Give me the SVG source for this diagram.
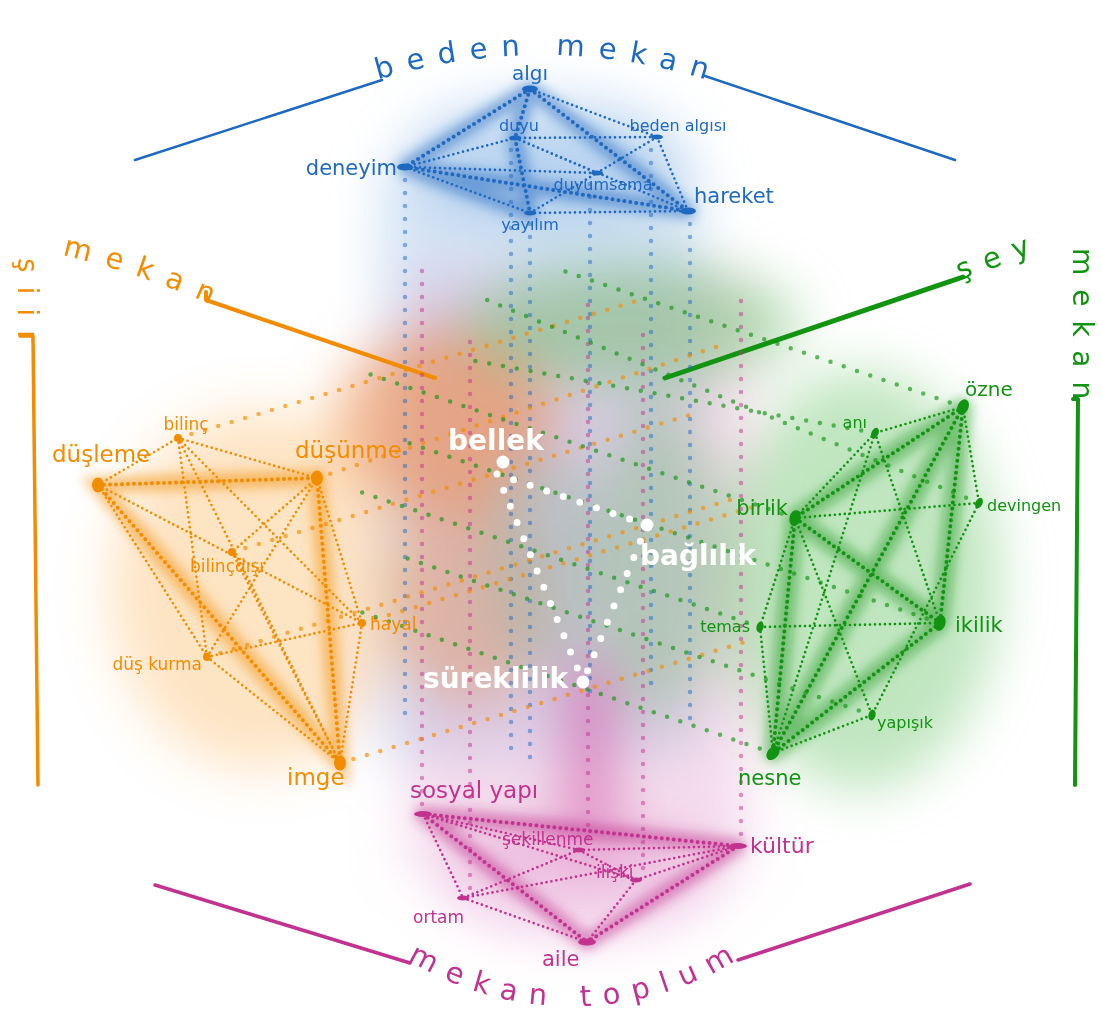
<svg xmlns="http://www.w3.org/2000/svg" width="1101" height="1016" viewBox="0 0 1101 1016">
<defs>
<filter id="cloud" x="-60%" y="-60%" width="220%" height="220%"><feGaussianBlur stdDeviation="26"/></filter>
<filter id="glow" x="-40%" y="-40%" width="180%" height="180%"><feGaussianBlur stdDeviation="6"/></filter>
<path id="arcB" d="M 377 80 A 557 557 0 0 1 707 80"/>
<path id="arcP" d="M 400 955 A 314 314 0 0 0 750 951"/>
<path id="arcO" d="M 62 255 Q 137 272 212 305"/>
<path id="arcG" d="M 960 280 L 1048 248"/>
</defs>
<style>
text{font-family:"DejaVu Sans","Liberation Sans",sans-serif}
.tb{fill:#1f69c1}.to{fill:#f28c00}.tg{fill:#129412}.tp{fill:#c2328f}
.tw{fill:#fff;font-weight:bold;font-size:28px}
.ttl{font-size:29px}
.e{fill:none;stroke-linecap:round;stroke-dasharray:0 5;stroke-width:2.7}
.E{fill:none;stroke-linecap:round;stroke-dasharray:0 6;stroke-width:4}
.p{fill:none;stroke-linecap:round;stroke-dasharray:0 13;stroke-width:4.5;opacity:.5}
.q{fill:none;stroke-linecap:round;stroke-dasharray:0 14;stroke-width:4.5;opacity:.65}
.w{fill:none;stroke:#fff;stroke-linecap:round;stroke-dasharray:0 17.5;stroke-width:7}
.sb{stroke:#1f69c1}.so{stroke:#f28c00}.sg{stroke:#129412}.sp{stroke:#c2328f}
.fb{fill:#1f69c1}.fo{fill:#f28c00}.fg{fill:#129412}.fp{fill:#c2328f}
.gl{fill:none;stroke-width:16;opacity:.5;stroke-linecap:round}
.fr{fill:none;stroke-linecap:round;stroke-linejoin:round}
</style>
<rect width="1101" height="1016" fill="#fff"/>

<g id="clouds" filter="url(#cloud)">
<rect x="380" y="170" width="320" height="590" fill="#a9c9ec" opacity=".5"/>
<rect x="405" y="270" width="345" height="600" fill="#e7a9d3" opacity=".4"/>
<rect x="565" y="660" width="50" height="200" fill="#d24fa8" opacity=".6"/>
<ellipse cx="260" cy="590" rx="150" ry="180" fill="#f7a63a" opacity=".3"/>
<ellipse cx="445" cy="420" rx="110" ry="95" fill="#ee8438" opacity=".55"/>
<ellipse cx="470" cy="600" rx="80" ry="110" fill="#e0945a" opacity=".45"/>
<ellipse cx="630" cy="325" rx="170" ry="65" fill="#6fbf6f" opacity=".5"/>
<ellipse cx="860" cy="580" rx="140" ry="210" fill="#74c874" opacity=".45"/>
<ellipse cx="660" cy="560" rx="70" ry="160" fill="#86bc86" opacity=".45"/>
<ellipse cx="545" cy="560" rx="60" ry="120" fill="#96b4a4" opacity=".45"/>
<ellipse cx="545" cy="160" rx="140" ry="60" fill="#8db8e8" opacity=".55"/>
<ellipse cx="580" cy="875" rx="140" ry="60" fill="#e49ad0" opacity=".5"/>
</g>

<g id="title-beden-mekan">
<path class="fr sb" stroke-width="2.5" d="M 135 160 L 382 80 M 705 76 L 955 160"/>
<text class="ttl tb" letter-spacing="13.4"><textPath href="#arcB" startOffset="1">beden</textPath></text>
<text class="ttl tb" letter-spacing="13.4"><textPath href="#arcB" startOffset="181.5">mekan</textPath></text>
</g>
<g id="title-siir-mekan">
<path class="fr so" stroke-width="4" d="M 206 292 L 206 300 L 435 378"/>
<path class="fr so" stroke-width="3.5" d="M 20 336 L 33 336 L 38 785"/>
<text class="ttl to" letter-spacing="14.5"><textPath href="#arcO">mekan</textPath></text>
<text class="to" font-size="28" letter-spacing="14" transform="translate(18,258) rotate(90)">şiir</text>
</g>
<g id="title-sey-mekan">
<path class="fr sg" stroke-width="5" d="M 665 378 L 963 277"/>
<path class="fr sg" stroke-width="4" d="M 1073 399 L 1078 399 L 1075 785"/>
<text class="ttl tg" letter-spacing="13"><textPath href="#arcG">şey</textPath></text>
<text class="tg" font-size="28" letter-spacing="14" transform="translate(1073,248) rotate(90)">mekan</text>
</g>
<g id="title-mekan-toplum">
<path class="fr sp" stroke-width="3.5" d="M 155 885 L 410 963 M 738 960 L 970 884"/>
<text class="ttl tp" letter-spacing="12.2"><textPath href="#arcP" startOffset="9">mekan</textPath></text>
<text class="ttl tp" letter-spacing="12.2"><textPath href="#arcP" startOffset="190.5">toplum</textPath></text>
</g>

<g id="connectors">
<g filter="url(#glow)">
<path class="gl sb" d="M530 89L405 167M530 89L688 211M530 89L515 138L530 213M405 167L688 211M405 167L530 213"/>
<path class="gl so" d="M98 485L317 478L340 763Z"/>
<path class="gl sg" d="M963 407L795 518M963 407L940 623M963 407L773 753M795 518L940 623M795 518L773 753M940 623L773 753"/>
<path class="gl sp" d="M423 814L587 942L738 846M423 814L738 846"/>
</g>
<path class="p sb" d="M405 180V715M511 150V760M530 224V760M590 184V700M651 150V690M690 224V720"/>
<path class="p sp" d="M422 804V268M470 888V340M588 838V295M643 868V325M741 834V290"/>
<path class="q so" d="M178 438L640 300M317 478L722 345M232 552L700 412M362 623L760 505M207 657L730 500M340 763L745 642"/>
<path class="q sg" d="M963 407L555 268M875 433L470 360M979 503L475 295M795 518L360 371M760 627L355 490M940 623L400 440M872 715L400 556M773 753L355 610"/>
<path class="E sb" d="M530 89L405 167M530 89L688 211M530 89L515 138M515 138L530 213M405 167L688 211"/>
<path class="e sb" d="M530 89L657 137M405 167L515 138M405 167L530 213M405 167L597 173M515 138L657 137M515 138L597 173M515 138L688 211M597 173L657 137M530 213L597 173M530 213L688 211M657 137L688 211"/>
<path class="E so" d="M98 485L317 478M98 485L340 763M317 478L340 763"/>
<path class="e so" d="M98 485L178 438M178 438L317 478M178 438L207 657M178 438L362 623M178 438L340 763M98 485L362 623M98 485L207 657M317 478L232 552M317 478L207 657M232 552L340 763M207 657L362 623M207 657L340 763M362 623L340 763M317 478L362 623"/>
<path class="E sg" d="M963 407L795 518M963 407L940 623M963 407L773 753M795 518L940 623M795 518L773 753M940 623L773 753"/>
<path class="e sg" d="M963 407L875 433M963 407L979 503M875 433L795 518M875 433L940 623M795 518L979 503M795 518L872 715M795 518L760 627M760 627L940 623M760 627L773 753M773 753L872 715M979 503L872 715M875 433L773 753"/>
<path class="E sp" d="M423 814L587 942M738 846L587 942M423 814L738 846"/>
<path class="e sp" d="M423 814L579 850M423 814L463 898M423 814L636 880M579 850L738 846M579 850L463 898M579 850L636 880M463 898L587 942M463 898L738 846M636 880L587 942M636 880L738 846"/>
<path class="w" d="M497 474L647 525M497 474L583 682M647 525L583 682"/>
</g>

<g id="n-algi"><ellipse cx="530" cy="89" rx="8" ry="3.5" class="fb"/><text x="530" y="80" font-size="20" text-anchor="middle" class="tb">algı</text></g>
<g id="n-duyu"><ellipse cx="515" cy="138" rx="6" ry="2.5" class="fb"/><text x="519" y="131" font-size="16" text-anchor="middle" class="tb">duyu</text></g>
<g id="n-beden-algisi"><ellipse cx="657" cy="137" rx="6" ry="2.5" class="fb"/><text x="678" y="131" font-size="16" text-anchor="middle" class="tb">beden algısı</text></g>
<g id="n-deneyim"><ellipse cx="405" cy="167" rx="8" ry="3.5" class="fb"/><text x="397" y="175" font-size="21" text-anchor="end" class="tb">deneyim</text></g>
<g id="n-duyumsama"><ellipse cx="597" cy="173" rx="6" ry="2.5" class="fb"/><text x="603" y="190" font-size="16" text-anchor="middle" class="tb">duyumsama</text></g>
<g id="n-hareket"><ellipse cx="688" cy="211" rx="8" ry="3.5" class="fb"/><text x="694" y="203" font-size="21" class="tb">hareket</text></g>
<g id="n-yayilim"><ellipse cx="530" cy="213" rx="6" ry="2.5" class="fb"/><text x="530" y="230" font-size="16" text-anchor="middle" class="tb">yayılım</text></g>

<g id="n-dusleme"><ellipse cx="98" cy="485" rx="6" ry="7.5" class="fo"/><text x="52" y="462" font-size="23" class="to">düşleme</text></g>
<g id="n-bilinc"><circle cx="178" cy="438" r="4" class="fo"/><text x="186" y="430" font-size="17" text-anchor="middle" class="to">bilinç</text></g>
<g id="n-dusunme"><ellipse cx="317" cy="478" rx="6" ry="7.5" class="fo"/><text x="295" y="458" font-size="23" class="to">düşünme</text></g>
<g id="n-bilincdisi"><circle cx="232" cy="552" r="4" class="fo"/><text x="227" y="572" font-size="17" text-anchor="middle" class="to">bilinçdışı</text></g>
<g id="n-hayal"><circle cx="362" cy="623" r="4" class="fo"/><text x="370" y="630" font-size="17" class="to">hayal</text></g>
<g id="n-dus-kurma"><circle cx="207" cy="657" r="4" class="fo"/><text x="202" y="670" font-size="17" text-anchor="end" class="to">düş kurma</text></g>
<g id="n-imge"><ellipse cx="340" cy="763" rx="6" ry="7.5" class="fo"/><text x="287" y="785" font-size="23" class="to">imge</text></g>

<g id="n-ozne"><ellipse cx="963" cy="407" rx="5.5" ry="8" transform="rotate(25 963 407)" class="fg"/><text x="965" y="396" font-size="20" class="tg">özne</text></g>
<g id="n-ani"><ellipse cx="875" cy="433" rx="3.5" ry="5.5" transform="rotate(25 875 433)" class="fg"/><text x="867" y="428" font-size="16" text-anchor="end" class="tg">anı</text></g>
<g id="n-devingen"><ellipse cx="979" cy="503" rx="3.5" ry="5.5" transform="rotate(25 979 503)" class="fg"/><text x="987" y="511" font-size="16" class="tg">devingen</text></g>
<g id="n-birlik"><ellipse cx="795" cy="518" rx="5.5" ry="8" transform="rotate(15 795 518)" class="fg"/><text x="788" y="515" font-size="21" text-anchor="end" class="tg">birlik</text></g>
<g id="n-temas"><ellipse cx="760" cy="627" rx="3.5" ry="5.5" transform="rotate(15 760 627)" class="fg"/><text x="750" y="632" font-size="16" text-anchor="end" class="tg">temas</text></g>
<g id="n-ikilik"><ellipse cx="940" cy="623" rx="5.5" ry="8" transform="rotate(15 940 623)" class="fg"/><text x="955" y="632" font-size="21" class="tg">ikilik</text></g>
<g id="n-yapisik"><ellipse cx="872" cy="715" rx="3.5" ry="5.5" transform="rotate(15 872 715)" class="fg"/><text x="877" y="728" font-size="16" class="tg">yapışık</text></g>
<g id="n-nesne"><ellipse cx="773" cy="753" rx="5.5" ry="8" transform="rotate(40 773 753)" class="fg"/><text x="738" y="785" font-size="21" class="tg">nesne</text></g>

<g id="n-sosyal-yapi"><ellipse cx="423" cy="814" rx="9" ry="3" class="fp"/><text x="410" y="798" font-size="23" class="tp">sosyal yapı</text></g>
<g id="n-sekillenme"><ellipse cx="579" cy="850" rx="6" ry="2.5" class="fp"/><text x="502" y="845" font-size="17" class="tp">şekillenme</text></g>
<g id="n-kultur"><ellipse cx="738" cy="846" rx="9" ry="3" class="fp"/><text x="750" y="853" font-size="22" class="tp">kültür</text></g>
<g id="n-iliski"><ellipse cx="636" cy="880" rx="6" ry="2.5" class="fp"/><text x="596" y="878" font-size="17" class="tp">ilişki</text></g>
<g id="n-ortam"><ellipse cx="463" cy="898" rx="6" ry="2.5" class="fp"/><text x="413" y="923" font-size="17" class="tp">ortam</text></g>
<g id="n-aile"><ellipse cx="587" cy="942" rx="9" ry="3.5" class="fp"/><text x="542" y="966" font-size="21" class="tp">aile</text></g>

<g id="n-bellek"><circle cx="503" cy="462" r="6.5" fill="#fff"/><text x="448" y="450" class="tw">bellek</text></g>
<g id="n-baglilik"><circle cx="647" cy="525" r="6.5" fill="#fff"/><text x="640" y="565" class="tw">bağlılık</text></g>
<g id="n-sureklilik"><circle cx="583" cy="682" r="6.5" fill="#fff"/><text x="568" y="688" text-anchor="end" class="tw">süreklilik</text></g>
</svg>
